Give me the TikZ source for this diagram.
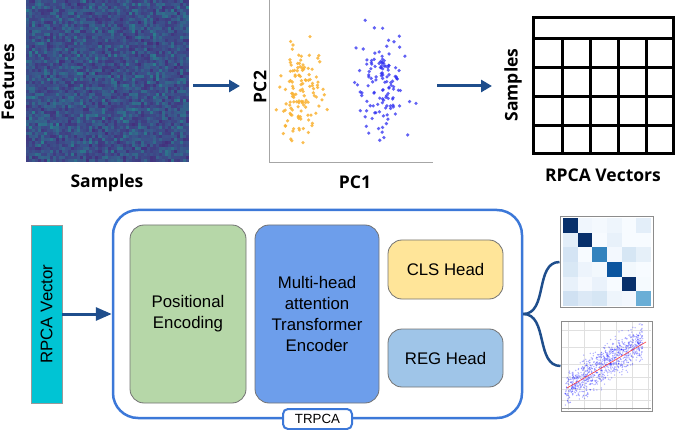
\documentclass[tikz,border=0pt]{standalone}
\usepackage{fontspec}
\setmainfont{Liberation Sans}
\newfontfamily\osans{Open Sans}
\usetikzlibrary{arrows.meta}
\definecolor{hmP}{HTML}{46287A}
\definecolor{hmB}{HTML}{3B528B}
\definecolor{hmT}{HTML}{22918C}
\definecolor{arrowblue}{HTML}{1F4E8C}
\definecolor{orangept}{HTML}{F9B233}
\definecolor{bluept}{HTML}{2E2EF0}
\definecolor{trblue}{HTML}{3C78D8}
\definecolor{cyanbox}{HTML}{00C4D4}
\definecolor{greenbox}{HTML}{B6D7A8}
\definecolor{mhbox}{HTML}{6D9EEB}
\definecolor{clsbox}{HTML}{FFE599}
\definecolor{regbox}{HTML}{9FC5E8}
\begin{document}
\begin{tikzpicture}[x=1pt,y=-1pt,
  lab/.style={font=\osans\bfseries\fontsize{17.5}{20}\selectfont, text=black, inner sep=0pt},
  arr/.style={draw=arrowblue, line width=3pt, -{Triangle[length=11pt,width=12pt]}},
  bigarr/.style={draw=arrowblue, line width=3pt, -{Triangle[length=16pt,width=13pt]}},
  blk/.style={draw=black!55, line width=0.8pt, rounded corners=14pt, font=\fontsize{16.8}{21}\selectfont, align=center, inner sep=0pt},
  conn/.style={draw=arrowblue, line width=2.5pt},
  frame/.style={draw=black!45, line width=1pt, inner sep=0pt},
  area/.style={inner sep=0pt, outer sep=0pt}
]
\useasboundingbox (0,0) rectangle (685,430);
\pgfmathsetseed{7}

% ---------- heatmap ----------
\node[area, minimum width=163pt, minimum height=162pt] (heat) at (107.5,81) {};
\begin{scope}
\clip (26,0) rectangle (189,162);
\foreach \i in {0,...,53}{\foreach \j in {0,...,53}{
  \pgfmathtruncatemacro\a{max(0,min(100,46+21*(rand+rand)))}
  \ifnum\a<50
    \pgfmathtruncatemacro\b{2*\a}
    \fill[hmB!\b!hmP] ({26+\i*3.02},{\j*3}) rectangle ++(3.2,3.2);
  \else
    \pgfmathtruncatemacro\b{2*(\a-50)}
    \fill[hmT!\b!hmB] ({26+\i*3.02},{\j*3}) rectangle ++(3.2,3.2);
  \fi
}}
\end{scope}
\node[lab, rotate=90] (featl) at (8,82) {Features};
\node[lab] (sampl) at (107,183) {Samples};

% ---------- PCA scatter ----------
\node[area, minimum width=195pt, minimum height=162pt] (pca) at (337.5,81) {};
\draw[black!35, line width=0.8pt] (269,0) -- (269,162) -- (433,162);
\foreach \k in {1,...,125}{
  \pgfmathsetmacro\px{303+11*(rand+rand+rand)}
  \pgfmathsetmacro\py{92+24*(rand+rand+rand)}
  \fill[orangept, opacity=0.85] (\px,\py) circle (1.8);
}
\foreach \k in {1,...,125}{
  \pgfmathsetmacro\px{381+13*(rand+rand+rand)}
  \pgfmathsetmacro\py{84+25*(rand+rand+rand)}
  \fill[bluept, opacity=0.75] (\px,\py) circle (1.8);
}
\node[lab, rotate=90] (pc2l) at (260,87) {PC2};
\node[lab] (pc1l) at (355,182) {PC1};

% ---------- table ----------
\node[area, minimum width=140pt, minimum height=136pt] (tbl) at (603,86) {};
\draw[line width=3pt] (533,18) rectangle (673,154);
\foreach \yy in {39,68,97,126}{\draw[line width=3pt] (533,\yy) -- (673,\yy);}
\foreach \xx in {562,590,618,646}{\draw[line width=3pt] (\xx,39) -- (\xx,154);}
\node[lab, rotate=90] (samp2) at (513,85) {Samples};
\node[lab] (rpcal) at (603,175) {RPCA Vectors};

% top arrows
\draw[arr] ([xshift=4pt,yshift=-5pt]heat.east) -- ([yshift=-5pt]pca.west);
\draw[arr] ([xshift=2pt]pca.east |- tbl.west) -- ([xshift=-41pt]tbl.west);

% ---------- bottom ----------
\node[draw=black!40, fill=cyanbox, minimum width=31pt, minimum height=178pt, inner sep=0pt] (rv) at (46.5,314) {};
\node[rotate=90, font=\fontsize{16.8}{20}\selectfont, inner sep=0pt] (rvt) at (rv.center) {RPCA Vector};

\node[draw=trblue, line width=2.5pt, rounded corners=25pt, minimum width=409pt, minimum height=208pt] (tr) at (317.5,314) {};
\draw[bigarr] (rv.east) -- (tr.west);

\node[blk, fill=greenbox, minimum width=116pt, minimum height=178pt] (pe) at (188,314) {Positional\\Encoding};
\node[blk, fill=mhbox, minimum width=124pt, minimum height=178pt] (mh) at (317,314) {Multi-head\\attention\\Transformer\\Encoder};
\node[blk, fill=clsbox, minimum width=115pt, minimum height=59pt] (cls) at (445.5,269.5) {CLS Head};
\node[blk, fill=regbox, minimum width=115pt, minimum height=58pt] (reg) at (445.5,358) {REG Head};
\node[draw=trblue, line width=2pt, fill=white, rounded corners=5pt, minimum width=69pt, minimum height=20pt, inner sep=0pt, font=\fontsize{13.3}{15}\selectfont] (trl) at (317.5,419) {TRPCA};

% confusion matrix
\node[frame, fill=white, minimum width=93pt, minimum height=90pt] (cm) at (606.5,262) {};
\foreach \row [count=\r from 0] in {
  {08306B,F0F6FD,F4F9FE,EEF5FC,F7FBFF,E3EEF9},
  {E3EEF9,08306B,F7FBFF,E8F1FA,F7FBFF,F7FBFF},
  {D4E4F4,F7FBFF,3383BE,F3F8FE,D6E6F4,E6F0F9},
  {D9E8F5,EDF4FC,F2F8FD,0B559F,F2F8FD,F7FBFF},
  {E8F1FA,F5F9FE,EAF2FB,F7FBFF,08306B,F5FAFE},
  {D0E1F2,DCE9F6,D6E6F4,EEF5FC,F2F7FD,6AAED6}}{
  \foreach \c [count=\q from 0] in \row {
    \definecolor{cellc}{HTML}{\c}
    \fill[cellc] ({563+\q*14.67},{218+\r*14.67}) rectangle ++(14.8,14.8);
  }
}
\draw[black!45, line width=1pt] (560,217) rectangle (653,307);

% regression plot
\node[frame, fill=white, minimum width=91pt, minimum height=90pt] (rp) at (606.5,366) {};
\foreach \xx in {568,584,600,616,632,648}{\draw[black!12, line width=0.6pt] (\xx,322) -- (\xx,410);}
\foreach \yy in {330,347,364,377,389,400}{\draw[black!12, line width=0.6pt] (562,\yy) -- (651,\yy);}
\draw[black!40, line width=0.6pt] (562,408) -- (651,408);
\begin{scope}
\clip (563,323) rectangle (650,406);
\foreach \k in {1,...,950}{
  \pgfmathsetmacro\u{rnd}
  \pgfmathsetmacro\px{565+78*\u}
  \pgfmathsetmacro\py{390-50*\u+9*(rand+rand+rand)}
  \fill[blue, opacity=0.3] (\px,\py) circle (0.75);
}
\end{scope}
\draw[red!75, line width=0.6pt] (567,388) -- (646,342);
\draw[black!45, line width=1pt] (561,321) rectangle (652,411);

\draw[conn] (tr.east) to[out=0,in=180] (cm.west);
\draw[conn] (tr.east) to[out=0,in=180] (rp.west);
\end{tikzpicture}
\end{document}
